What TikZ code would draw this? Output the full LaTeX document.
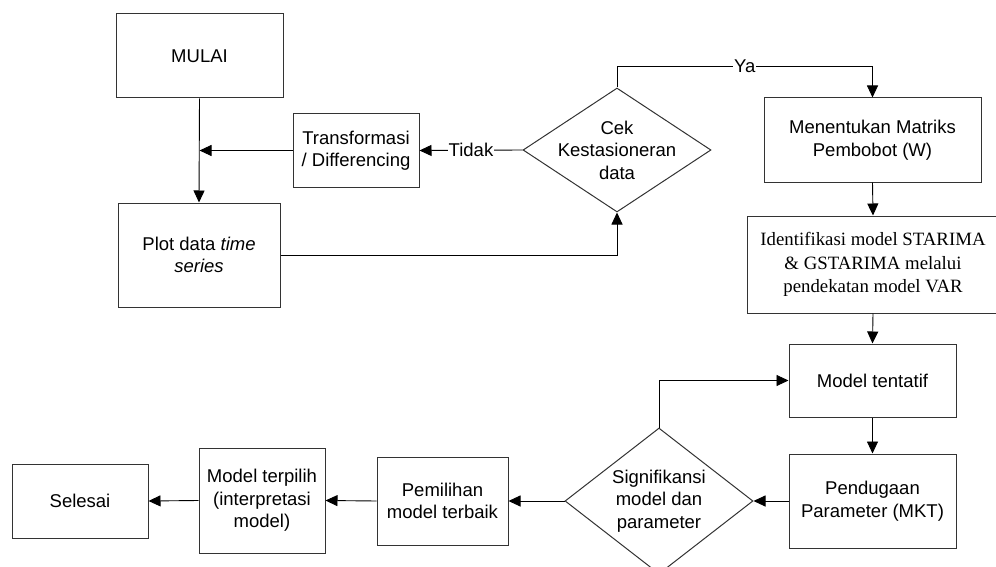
\documentclass[tikz,border=0pt]{standalone}
\usepackage{fontspec}
\setmainfont{Liberation Sans}
\newfontfamily\timesfont{Liberation Serif}
\usepackage{tikz}
\usetikzlibrary{arrows.meta,calc,positioning,shapes.geometric}

\begin{document}
\begin{tikzpicture}[
    x=1pt, y=-1pt,
    every node/.style={font=\fontsize{18.5}{22.5}\selectfont},
    box/.style={rectangle, draw=black!80, line width=1pt, align=center, inner sep=0},
    dec/.style={diamond, draw=black!80, line width=1pt, inner sep=0},
    txt/.style={align=center, inner sep=0},
    lbl/.style={fill=white, inner sep=1pt},
    arr/.style={draw=black, line width=0.9pt, -{Triangle[length=12pt,width=11pt]}},
    ln/.style={draw=black, line width=0.9pt}]
\useasboundingbox (0,0) rectangle (996,567);

% left column
\node (mulai) [box, minimum width=167, minimum height=84] at (199.5,56) {MULAI};
\node (trans) [box, minimum width=126, minimum height=73] at (356,150.5) {Transformasi\\/ Differencing};
\node (plot)  [box, minimum width=162, minimum height=104] at (199,255) {Plot data \textit{time}\\\textit{series}};

% stationarity check
\node (cek)    [dec, minimum width=188, minimum height=124] at (617,150) {};
\node (cektxt) [txt] at (cek) {Cek\\Kestasioneran\\data};

% right column
\node (menu)  [box, minimum width=217, minimum height=84] at (872.5,140) {Menentukan Matriks\\Pembobot (W)};
\node (ident) [box, minimum width=252, minimum height=97, font=\timesfont\fontsize{18.8}{23.3}\selectfont] at (873,264.5) {Identifikasi model STARIMA\\\& GSTARIMA melalui\\pendekatan model VAR};
\node (tent)  [box, minimum width=167, minimum height=73] at (872.5,380.5) {Model tentatif};
\node (pend)  [box, minimum width=167, minimum height=94] at (872.5,501) {Pendugaan\\Parameter (MKT)};

% bottom row
\node (sig)    [dec, minimum width=188, minimum height=146] at (659,501) {};
\node (sigtxt) [txt] at (sig) {Signifikansi\\model dan\\parameter};
\node (pem)  [box, minimum width=131, minimum height=88] at (442.5,501) {Pemilihan\\model terbaik};
\node (terp) [box, minimum width=126, minimum height=105] at (262,500.5) {Model terpilih\\(interpretasi\\model)};
\node (sel)  [box, minimum width=136, minimum height=74] at (80,501) {Selesai};

\coordinate (join) at (mulai.south |- trans.west);

\path[arr] (mulai.south) -- (plot.north);
\path[arr] (trans.west) -- (join);
\path[arr] (cek.west) -- node[lbl] {Tidak} (trans.east);
\path[arr] (plot.east) -| (cek.south);
\path[arr] (cek.north) -- ++(0,-21) coordinate (ya) -| node[lbl, pos=0.25] {Ya} (menu.north);
\path[arr] (menu.south) -- (ident.north);
\path[arr] (ident.south) -- (tent.north);
\path[arr] (tent.south) -- (pend.north);
\path[arr] (pend.west) -- (sig.east);
\path[arr] (sig.north) |- (tent.west);
\path[arr] (sig.west) -- (pem.east);
\path[arr] (pem.west) -- (terp.east);
\path[arr] (terp.west) -- (sel.east);

\end{tikzpicture}
\end{document}
